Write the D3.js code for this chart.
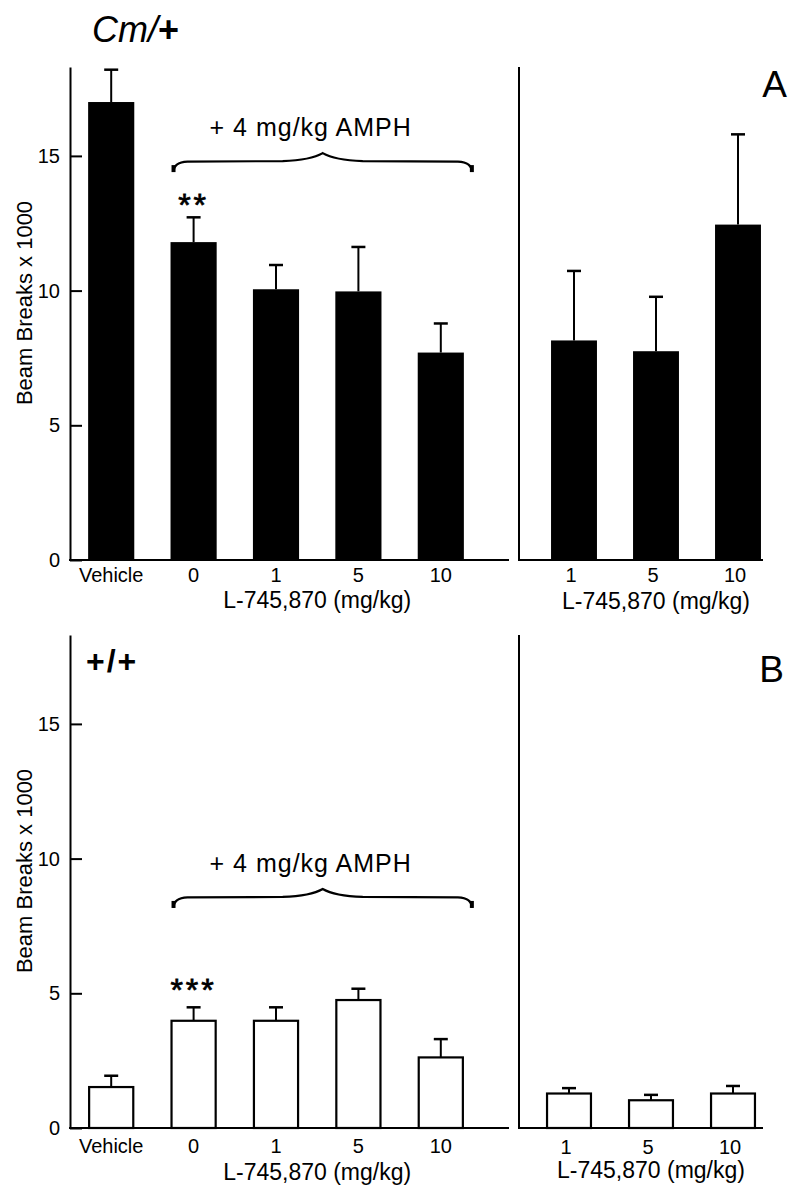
<!DOCTYPE html>
<html>
<head>
<meta charset="utf-8">
<script src="https://cdn.jsdelivr.net/npm/d3@7/dist/d3.min.js"></script>
<style>
  html, body { margin: 0; padding: 0; background: #fff; }
  svg { display: block; }
  text { font-family: "Liberation Sans", Arial, Helvetica, sans-serif; fill: #000; }
</style>
</head>
<body>
<svg id="chart" width="800" height="1200"></svg>
<script>
// ---------- data ----------
const leftCategories  = ["Vehicle", "0", "1", "5", "10"];
const rightCategories = ["1", "5", "10"];
const yTicks = [0, 5, 10, 15];

// Panel A (Cm/+), beam breaks x 1000
const cmLeftMeans  = [17.0, 11.8, 10.05, 9.97, 7.7];
const cmLeftSEM    = [1.2, 0.92, 0.9, 1.65, 1.08];
const cmRightMeans = [8.15, 7.75, 12.45];
const cmRightSEM   = [2.58, 2.02, 3.35];

// Panel B (+/+)
const wtLeftMeans  = [1.52, 3.98, 3.98, 4.75, 2.62];
const wtLeftSEM    = [0.42, 0.5, 0.5, 0.42, 0.68];
const wtRightMeans = [1.28, 1.03, 1.28];
const wtRightSEM   = [0.2, 0.2, 0.28];

const yMax = 18.3;
const xTitle = "L-745,870 (mg/kg)";
const yTitle = "Beam Breaks x 1000";
const amphLabel = "+ 4 mg/kg AMPH";

// ---------- layout ----------
const FONT = '"Liberation Sans", Arial, Helvetica, sans-serif';
const svg = d3.select("#chart");

const panels = [
  { top: 67, base: 560, fill: "#000", letter: "A", letterX: 787, letterY: 97,
    lMeans: cmLeftMeans, lSEM: cmLeftSEM, rMeans: cmRightMeans, rSEM: cmRightSEM,
    rRange: [533, 779], tickBase: 582, titleBase: 608, star: "**", starBase: 216, starSpacing: 3,
    braceVal: 14.77, rTickBase: 582, rTitleBase: 609 },
  { top: 635, base: 1128, fill: "#fff", letter: "B", letterX: 784, letterY: 682,
    lMeans: wtLeftMeans, lSEM: wtLeftSEM, rMeans: wtRightMeans, rSEM: wtRightSEM,
    rRange: [528, 774], tickBase: 1153, titleBase: 1180, star: "***", starBase: 1001, starSpacing: 3,
    braceVal: 8.54, rTickBase: 1154, rTitleBase: 1178 }
];

const axisX = 70, leftBaseEnd = 509, rightAxisX = 519, rightBaseEnd = 763;

panels.forEach(p => {
  const g = svg.append("g");
  const y = d3.scaleLinear().domain([0, yMax]).range([p.base, p.top]);
  const xL = d3.scaleBand().domain(leftCategories).range([70, 482]).paddingInner(0.44).paddingOuter(0.22);
  const xR = d3.scaleBand().domain(rightCategories).range(p.rRange).paddingInner(0.44).paddingOuter(0.22);

  // ----- left y axis -----
  const yAxis = d3.axisLeft(y).tickValues(yTicks).tickSizeInner(-12).tickSizeOuter(0).tickPadding(10);
  const ya = g.append("g").attr("transform", `translate(${axisX},0)`).call(yAxis);
  ya.selectAll("path, line").attr("stroke", "#000").attr("stroke-width", 2);
  ya.selectAll("text").style("font-family", FONT).style("font-size", "20px").attr("fill", "#000");

  // y title
  g.append("text")
    .attr("transform", `translate(32,${p.top + 236}) rotate(-90)`)
    .attr("text-anchor", "middle")
    .style("font-size", "22px")
    .text(yTitle);

  // left baseline
  g.append("line").attr("x1", axisX - 1).attr("x2", leftBaseEnd)
    .attr("y1", p.base).attr("y2", p.base).attr("stroke", "#000").attr("stroke-width", 2);

  // ----- right panel axis -----
  g.append("line").attr("x1", rightAxisX).attr("x2", rightAxisX)
    .attr("y1", y(yMax)).attr("y2", p.base + 1).attr("stroke", "#000").attr("stroke-width", 2);
  g.append("line").attr("x1", rightAxisX - 1).attr("x2", rightBaseEnd)
    .attr("y1", p.base).attr("y2", p.base).attr("stroke", "#000").attr("stroke-width", 2);

  // ----- bars -----
  function drawBars(scale, cats, means, sems) {
    const data = cats.map((c, i) => ({ c, v: means[i], e: sems[i] }));
    const bw = scale.bandwidth();
    const white = p.fill === "#fff";
    data.forEach(d => {
      const cx = scale(d.c) + bw / 2;
      g.append("line").attr("x1", cx).attr("x2", cx)
        .attr("y1", y(d.v)).attr("y2", y(d.v + d.e))
        .attr("stroke", "#000").attr("stroke-width", 2);
      g.append("line").attr("x1", cx - 7).attr("x2", cx + 7)
        .attr("y1", y(d.v + d.e)).attr("y2", y(d.v + d.e))
        .attr("stroke", "#000").attr("stroke-width", 2.5);
    });
    g.selectAll(null).data(data).enter().append("rect")
      .attr("x", d => scale(d.c) + (white ? 1 : 0))
      .attr("width", bw - (white ? 2 : 0))
      .attr("y", d => y(d.v))
      .attr("height", d => y(0) - y(d.v))
      .attr("fill", p.fill)
      .attr("stroke", "#000")
      .attr("stroke-width", white ? 2.2 : 0);
  }
  drawBars(xL, leftCategories, p.lMeans, p.lSEM);
  drawBars(xR, rightCategories, p.rMeans, p.rSEM);

  // ----- x tick labels -----
  leftCategories.forEach(c => {
    g.append("text").attr("x", xL(c) + xL.bandwidth() / 2).attr("y", p.tickBase)
      .attr("text-anchor", "middle").style("font-size", "20px").text(c);
  });
  rightCategories.forEach(c => {
    g.append("text").attr("x", xR(c) + xR.bandwidth() / 2 - 3).attr("y", p.rTickBase)
      .attr("text-anchor", "middle").style("font-size", "20px").text(c);
  });

  // x titles
  const lMid = (xL("0") + xL("10") + xL.bandwidth()) / 2;
  const rMid = (xR("1") + xR("10") + xR.bandwidth()) / 2;
  g.append("text").attr("x", lMid).attr("y", p.titleBase).attr("text-anchor", "middle")
    .style("font-size", "23px").text(xTitle);
  g.append("text").attr("x", rMid).attr("y", p.rTitleBase).attr("text-anchor", "middle")
    .style("font-size", "23px").text(xTitle);

  // ----- brace -----
  const bx0 = xL("0") + 3, bx1 = xL("10") + xL.bandwidth() + 8;
  const by = y(p.braceVal), bm = (bx0 + bx1) / 2;
  const brace = `M${bx0},${by + 10} Q${bx0},${by} ${bx0 + 14},${by - 0.5}
    L${bm - 40},${by - 1} Q${bm - 12},${by - 2} ${bm},${by - 9}
    Q${bm + 12},${by - 2} ${bm + 40},${by - 1}
    L${bx1 - 14},${by - 0.5} Q${bx1},${by} ${bx1},${by + 10}`;
  g.append("path").attr("d", brace).attr("fill", "none").attr("stroke", "#000").attr("stroke-width", 2.2);
  [bx0, bx1].forEach(bx => {
    g.append("line").attr("x1", bx).attr("x2", bx).attr("y1", by + 3).attr("y2", by + 10)
      .attr("stroke", "#000").attr("stroke-width", 4);
  });
  g.append("text").attr("x", bm - 12).attr("y", by - 26).attr("text-anchor", "middle")
    .style("font-size", "25px").style("letter-spacing", "1px").text(amphLabel);

  // significance stars over "0" bar
  g.append("text").attr("x", xL("0") + xL.bandwidth() / 2).attr("y", p.starBase)
    .attr("text-anchor", "middle").style("font-size", "32px")
    .attr("stroke", "#000").attr("stroke-width", 0.8)
    .style("letter-spacing", p.starSpacing + "px").text(p.star);

  // panel letter
  g.append("text").attr("x", p.letterX).attr("y", p.letterY).attr("text-anchor", "end")
    .style("font-size", "37px").text(p.letter);
});

// genotype labels
const cm = svg.append("text").attr("x", 92).attr("y", 42).style("font-size", "36px");
cm.append("tspan").style("font-style", "italic").text("Cm/");
cm.append("tspan").style("font-weight", "bold").text("+");

svg.append("text").attr("x", 86).attr("y", 672).style("font-size", "32px")
  .style("font-weight", "bold").style("letter-spacing", "2px").text("+/+");
</script>
</body>
</html>
